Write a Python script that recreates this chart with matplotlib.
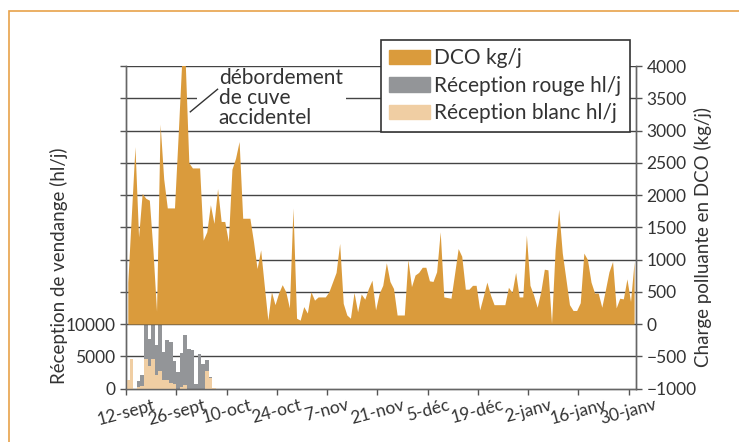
import numpy as np
import matplotlib
matplotlib.use("Agg")
import matplotlib.pyplot as plt
from matplotlib.patches import Rectangle

plt.rcParams['font.family'] = ['Lato', 'DejaVu Sans']

# daily DCO load (kg/j), 12-sept -> 1-fev
dco = [650, 1700, 2750, 1350, 2025, 1950, 1920, 1150, 200, 3100, 2250, 1800, 1800, 1800,
       2900, 4050, 4050, 2500, 2420, 2420, 2420, 1300, 1430, 1850, 1560, 2100, 1590, 1590,
       1280, 2400, 2570, 2830, 1640, 1640, 1640, 1280, 860, 1150, 600, 60, 500, 300,
       480, 610, 500, 250, 1800, 90, 60, 270, 170, 500, 370, 420, 420, 420,
       500, 650, 800, 1250, 320, 140, 90, 490, 190, 465, 385, 550, 680, 220,
       475, 600, 950, 660, 550, 140, 140, 140, 1000, 580, 760, 800, 880, 880,
       670, 660, 810, 1430, 420, 410, 400, 780, 1170, 1050, 540, 540, 600, 600,
       220, 430, 650, 450, 300, 300, 300, 300, 570, 490, 800, 420, 420, 1380,
       600, 450, 260, 500, 850, 840, 10, 1150, 1780, 1100, 700, 300, 210, 210,
       330, 1100, 1000, 650, 480, 480, 260, 530, 810, 970, 250, 400, 390, 700,
       350, 970]

# grape reception (hl/j), first days of harvest
rouge = [0, 0, 0, 1200, 2150, 10000, 7640, 10870, 6770, 11230, 5690, 7540, 7280, 4300,
         2510, 5480, 8300, 6150, 6000, 770, 5380, 3850, 4460, 1800, 0]
blanc = [1250, 4600, 0, 200, 400, 4570, 3540, 4570, 2150, 2670, 1380, 1380, 870, 770,
         0, 300, 600, 0, 0, 0, 0, 0, 2770, 1600, 150]

date_labels = ["12-sept", "26-sept", "10-oct", "24-oct", "7-nov", "21-nov",
               "5-déc", "19-déc", "2-janv", "16-janv", "30-janv"]

c_dco = "#DA9B3C"
c_rouge = "#939598"
c_blanc = "#F0CEA3"
c_grid = "#444444"
c_text = "#333333"

fig = plt.figure(figsize=(7.39, 4.42), dpi=100)
ax = fig.add_axes([0.1705, 0.121, 0.690, 0.7296])
ax2 = ax.twinx()

# bars (left axis)
xb = np.arange(len(rouge)) + 0.5
ax.axhline(5000, color=c_grid, lw=1.0, zorder=0.5)
ax.bar(xb, rouge, width=1.0, color=c_rouge, zorder=2, linewidth=0)
ax.bar(xb, blanc, width=1.0, color=c_blanc, zorder=3, linewidth=0)
ax.set_ylim(0, 50000)
ax.set_xlim(0, 142)
ax.set_yticks(np.arange(0, 50001, 5000))
ax.set_yticklabels([str(v) if v <= 10000 else "" for v in range(0, 50001, 5000)])
ax.set_xticks(np.arange(0, 141, 14))
ax.set_xticklabels(date_labels, rotation=15, ha="center")

# DCO area (right axis)
xd = np.arange(len(dco)) + 0.5
for v in np.arange(0, 4001, 500):
    ax2.axhline(v, color=c_grid, lw=1.0, zorder=0.5)
ax2.fill_between(xd, 0, dco, color=c_dco, lw=0, zorder=2)
ax2.set_ylim(-1000, 4000)
ax2.set_yticks(np.arange(-1000, 4001, 500))
ax2.set_xlim(0, 142)

for a in (ax, ax2):
    a.spines['top'].set_visible(False)
    for s in ('left', 'right', 'bottom'):
        a.spines[s].set_color("#666666")
        a.spines[s].set_linewidth(1.0)
    a.tick_params(colors="#555555", labelcolor=c_text, labelsize=12.5, length=4, width=1.0)
ax.tick_params(axis='x', pad=2)

fig.text(0.08, 0.398, "Réception de vendange (hl/j)", rotation=90, ha="center", va="center",
         fontsize=13.5, color=c_text)
fig.text(0.951, 0.464, "Charge polluante en DCO (kg/j)", rotation=90, ha="center", va="center",
         fontsize=13.5, color=c_text)

# annotation
ax2.add_patch(Rectangle((19.9, 3040), 41.3, 930, facecolor="white", edgecolor="none", zorder=3))
ax2.plot([17.9, 25.5], [3290, 3640], color=c_text, lw=1.0, zorder=4)
ax2.text(25.8, 3965, "débordement\nde cuve\naccidentel", ha="left", va="top", fontsize=15,
         color=c_text, linespacing=0.98, zorder=5)

# legend
handles = [Rectangle((0, 0), 1, 1, color=c_dco), Rectangle((0, 0), 1, 1, color=c_rouge),
           Rectangle((0, 0), 1, 1, color=c_blanc)]
leg = fig.legend(handles, ["DCO kg/j", "Réception rouge hl/j", "Réception blanc hl/j"],
                 loc="upper left", bbox_to_anchor=(0.5156, 0.9095), fontsize=15,
                 frameon=True, fancybox=False, framealpha=1, edgecolor=c_text,
                 handlelength=1.95, handleheight=0.7, handletextpad=0.2,
                 labelspacing=0.36, borderpad=0.4, borderaxespad=0)
leg.get_frame().set_linewidth(1.2)
for t in leg.get_texts():
    t.set_color(c_text)

# outer frame
fig.add_artist(Rectangle((9 / 739, -0.1), 1.2, 1.1 - 11 / 442, transform=fig.transFigure,
                         facecolor="none", edgecolor="#E8A24A", lw=1.2))

fig.savefig("out.png", dpi=100)
